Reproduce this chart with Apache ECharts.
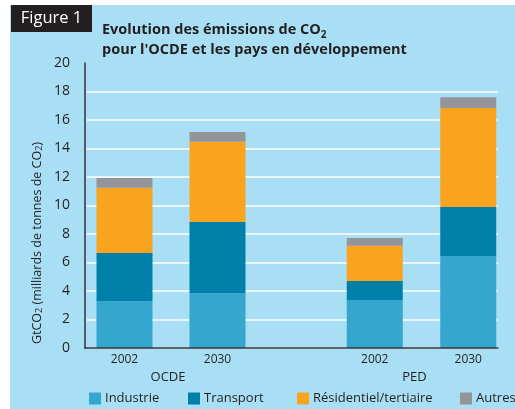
<!DOCTYPE html>
<html>
<head>
<meta charset="utf-8">
<script src="https://cdn.jsdelivr.net/npm/echarts@6/dist/echarts.min.js"></script>
<style>
  html, body { margin: 0; padding: 0; background: #fff; }
  #chart { width: 515px; height: 409px; }
</style>
</head>
<body>
<div id="chart"></div>
<script>
// categories
const years = ['2002', '2030']
const groups = ['OCDE', 'PED']
const sectors = ['Industrie', 'Transport', 'Résidentiel/tertiaire', 'Autres']
const sectorColors = ['#35a6cd', '#0080a9', '#f9a31f', '#939598']

// GtCO2 per sector, [2002, 2030]
const ocdeIndustrie = [3.3, 3.86]
const ocdeTransport = [3.37, 4.98]
const ocdeResidentiel = [4.58, 5.64]
const ocdeAutres = [0.68, 0.68]

const pedIndustrie = [3.37, 6.46]
const pedTransport = [1.33, 3.44]
const pedResidentiel = [2.48, 6.94]
const pedAutres = [0.54, 0.76]

const ocdeData = [ocdeIndustrie, ocdeTransport, ocdeResidentiel, ocdeAutres]
const pedData = [pedIndustrie, pedTransport, pedResidentiel, pedAutres]

const font = "'Open Sans', sans-serif"
const dark = '#231f20'

const chart = echarts.init(document.getElementById('chart'))

const series = []
sectors.forEach((name, i) => {
  series.push({
    name, type: 'bar', stack: 'ocde', xAxisIndex: 1, yAxisIndex: 2,
    barWidth: 56, data: ocdeData[i], itemStyle: { color: sectorColors[i] }, z: 5
  })
  series.push({
    name, type: 'bar', stack: 'ped', xAxisIndex: 2, yAxisIndex: 3,
    barWidth: 56, data: pedData[i], itemStyle: { color: sectorColors[i] }, z: 5
  })
})

// one legend per item, the gaps in the original are uneven
const legendLeft = [84, 183, 292, 455]
const legends = sectors.map((name, i) => ({
  data: [name],
  left: legendLeft[i],
  top: 387,
  icon: 'rect',
  itemWidth: 12,
  itemHeight: 12,
  itemGap: 0,
  selectedMode: false,
  textStyle: { fontFamily: font, fontSize: 13, color: dark, padding: [0, 0, 0, -1] }
}))

const valueAxis = (gridIndex, show) => ({
  type: 'value', gridIndex, min: 0, max: 20, interval: 2,
  axisLabel: { show, fontFamily: font, fontSize: 14, color: dark, margin: 15 },
  axisLine: { show, lineStyle: { color: '#333', width: 1.5 } },
  axisTick: { show: false },
  splitLine: { show: false }
})

const groupAxis = (gridIndex, name, shift) => ({
  type: 'category', gridIndex, data: years,
  axisLine: { show: false }, axisTick: { show: false },
  axisLabel: { fontFamily: font, fontSize: 12, color: dark, margin: 6 },
  name, nameLocation: 'middle', nameGap: 18,
  nameTextStyle: { fontFamily: font, fontSize: 13, color: dark, padding: [0, shift, 0, 0] }
})

chart.setOption({
  backgroundColor: '#fff',
  animation: false,
  title: {
    text: 'Evolution des émissions de CO{s|2}\npour l\'OCDE et les pays en développement',
    left: 97,
    top: 15,
    textStyle: {
      fontFamily: font, fontSize: 14.5, fontWeight: 'bold', color: dark, lineHeight: 20,
      rich: { s: { fontFamily: font, fontSize: 10, fontWeight: 'bold', color: dark, verticalAlign: 'bottom', lineHeight: 14 } }
    }
  },
  legend: legends,
  graphic: [
    { type: 'rect', z: -10, shape: { x: 10, y: 5, width: 505, height: 404 }, style: { fill: '#a9dff5' } },
    { type: 'rect', z: -5, shape: { x: 11, y: 5, width: 81, height: 27 }, style: { fill: dark } },
    { type: 'text', z: -4, x: 51.5, y: 18.5, style: { text: 'Figure 1', fill: '#fff', font: '16.5px ' + font, textAlign: 'center', textVerticalAlign: 'middle' } },
    {
      type: 'text', x: 37, y: 243, rotation: Math.PI / 2,
      style: {
        text: 'GtCO{s|2} (milliards de tonnes de CO{s|2})',
        fill: dark, font: '12.5px ' + font, textAlign: 'center', textVerticalAlign: 'middle',
        rich: { s: { fontSize: 9, fill: dark, fontFamily: font, verticalAlign: 'bottom', lineHeight: 12 } }
      }
    }
  ],
  grid: [
    { left: 85, top: 63, width: 413, height: 285 },
    { left: 87, top: 91.5, width: 411, height: 256.5 },
    { left: 78, top: 63, width: 186, height: 285 },
    { left: 328, top: 63, width: 189, height: 285 }
  ],
  xAxis: [
    { type: 'category', gridIndex: 0, data: [''], axisLine: { lineStyle: { color: '#333', width: 1.5 } }, axisTick: { show: false }, axisLabel: { show: false }, z: 10 },
    groupAxis(2, groups[0], 6),
    groupAxis(3, groups[1], 14),
    { type: 'category', gridIndex: 1, show: false, data: [''] }
  ],
  yAxis: [
    valueAxis(0, true),
    // white grid lines stop at 18, none at 20
    {
      type: 'value', gridIndex: 1, min: 0, max: 18, interval: 2,
      axisLabel: { show: false }, axisLine: { show: false }, axisTick: { show: false },
      splitLine: { show: true, lineStyle: { color: '#fff', width: 1.5 } }
    },
    valueAxis(2, false),
    valueAxis(3, false)
  ],
  series
})
</script>
</body>
</html>
